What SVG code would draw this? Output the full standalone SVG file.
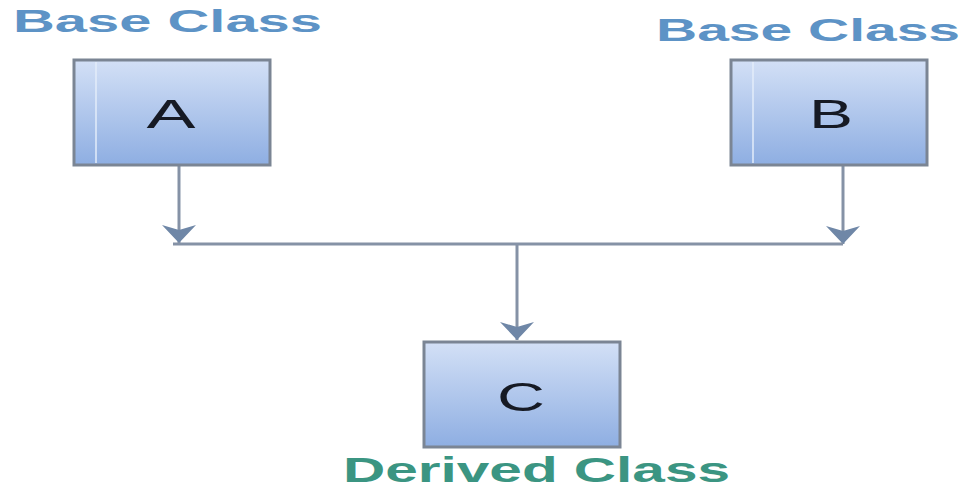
<svg xmlns="http://www.w3.org/2000/svg" width="964" height="490" viewBox="0 0 964 490">
  <defs>
    <linearGradient id="boxFill" x1="0" y1="0" x2="0" y2="1">
      <stop offset="0" stop-color="#d3e0f6"/>
      <stop offset="1" stop-color="#8eaee2"/>
    </linearGradient>
    <marker id="head" markerUnits="userSpaceOnUse" markerWidth="20" markerHeight="36" viewBox="-18 -18 20 36" refX="0" refY="0" orient="auto" style="overflow:visible">
      <path d="M0,0 L-18,-17 L-13,0 L-18,17 Z" fill="#6f87a7"/>
    </marker>
  </defs>
  <style>
    .box { fill: url(#boxFill); stroke: #7b8594; stroke-width: 3; }
    .bevel { stroke: #e3ecfa; stroke-width: 1.5; fill: none; }
    .letter { font-family: "Liberation Sans", Arial, sans-serif; font-size: 40px; fill: #161a24; text-anchor: middle; }
    .base { font-family: "Liberation Sans", Arial, sans-serif; font-weight: bold; font-size: 32px; fill: #5d93c6; }
    .derived { font-family: "Liberation Sans", Arial, sans-serif; font-weight: bold; font-size: 35px; fill: #3b9582; }
    .wire { stroke: #8592a6; stroke-width: 3; fill: none; }
  </style>

  <!-- captions -->
  <text class="base" x="13" y="32" textLength="309" lengthAdjust="spacingAndGlyphs">Base Class</text>
  <text class="base" x="656" y="41" textLength="304" lengthAdjust="spacingAndGlyphs">Base Class</text>
  <text class="derived" x="343" y="482" textLength="387" lengthAdjust="spacingAndGlyphs">Derived Class</text>

  <!-- connectors -->
  <g id="connectors">
    <path class="wire" d="M179,165 V243" marker-end="url(#head)"/>
    <path class="wire" d="M843,165 V244" marker-end="url(#head)"/>
    <path class="wire" d="M173,244 H843"/>
    <path class="wire" d="M517,244 V340" marker-end="url(#head)"/>
  </g>

  <!-- class nodes -->
  <g id="nodeA">
    <rect class="box" x="74" y="60" width="196" height="105"/>
    <line class="bevel" x1="96" y1="62" x2="96" y2="163"/>
    <text class="letter" x="171" y="128" textLength="49" lengthAdjust="spacingAndGlyphs">A</text>
  </g>
  <g id="nodeB">
    <rect class="box" x="731" y="60" width="196" height="105"/>
    <line class="bevel" x1="753" y1="62" x2="753" y2="163"/>
    <text class="letter" x="831" y="128" textLength="44" lengthAdjust="spacingAndGlyphs">B</text>
  </g>
  <g id="nodeC">
    <rect class="box" x="424" y="342" width="196" height="105"/>
    <text class="letter" x="521" y="411" textLength="48" lengthAdjust="spacingAndGlyphs">C</text>
  </g>
</svg>
